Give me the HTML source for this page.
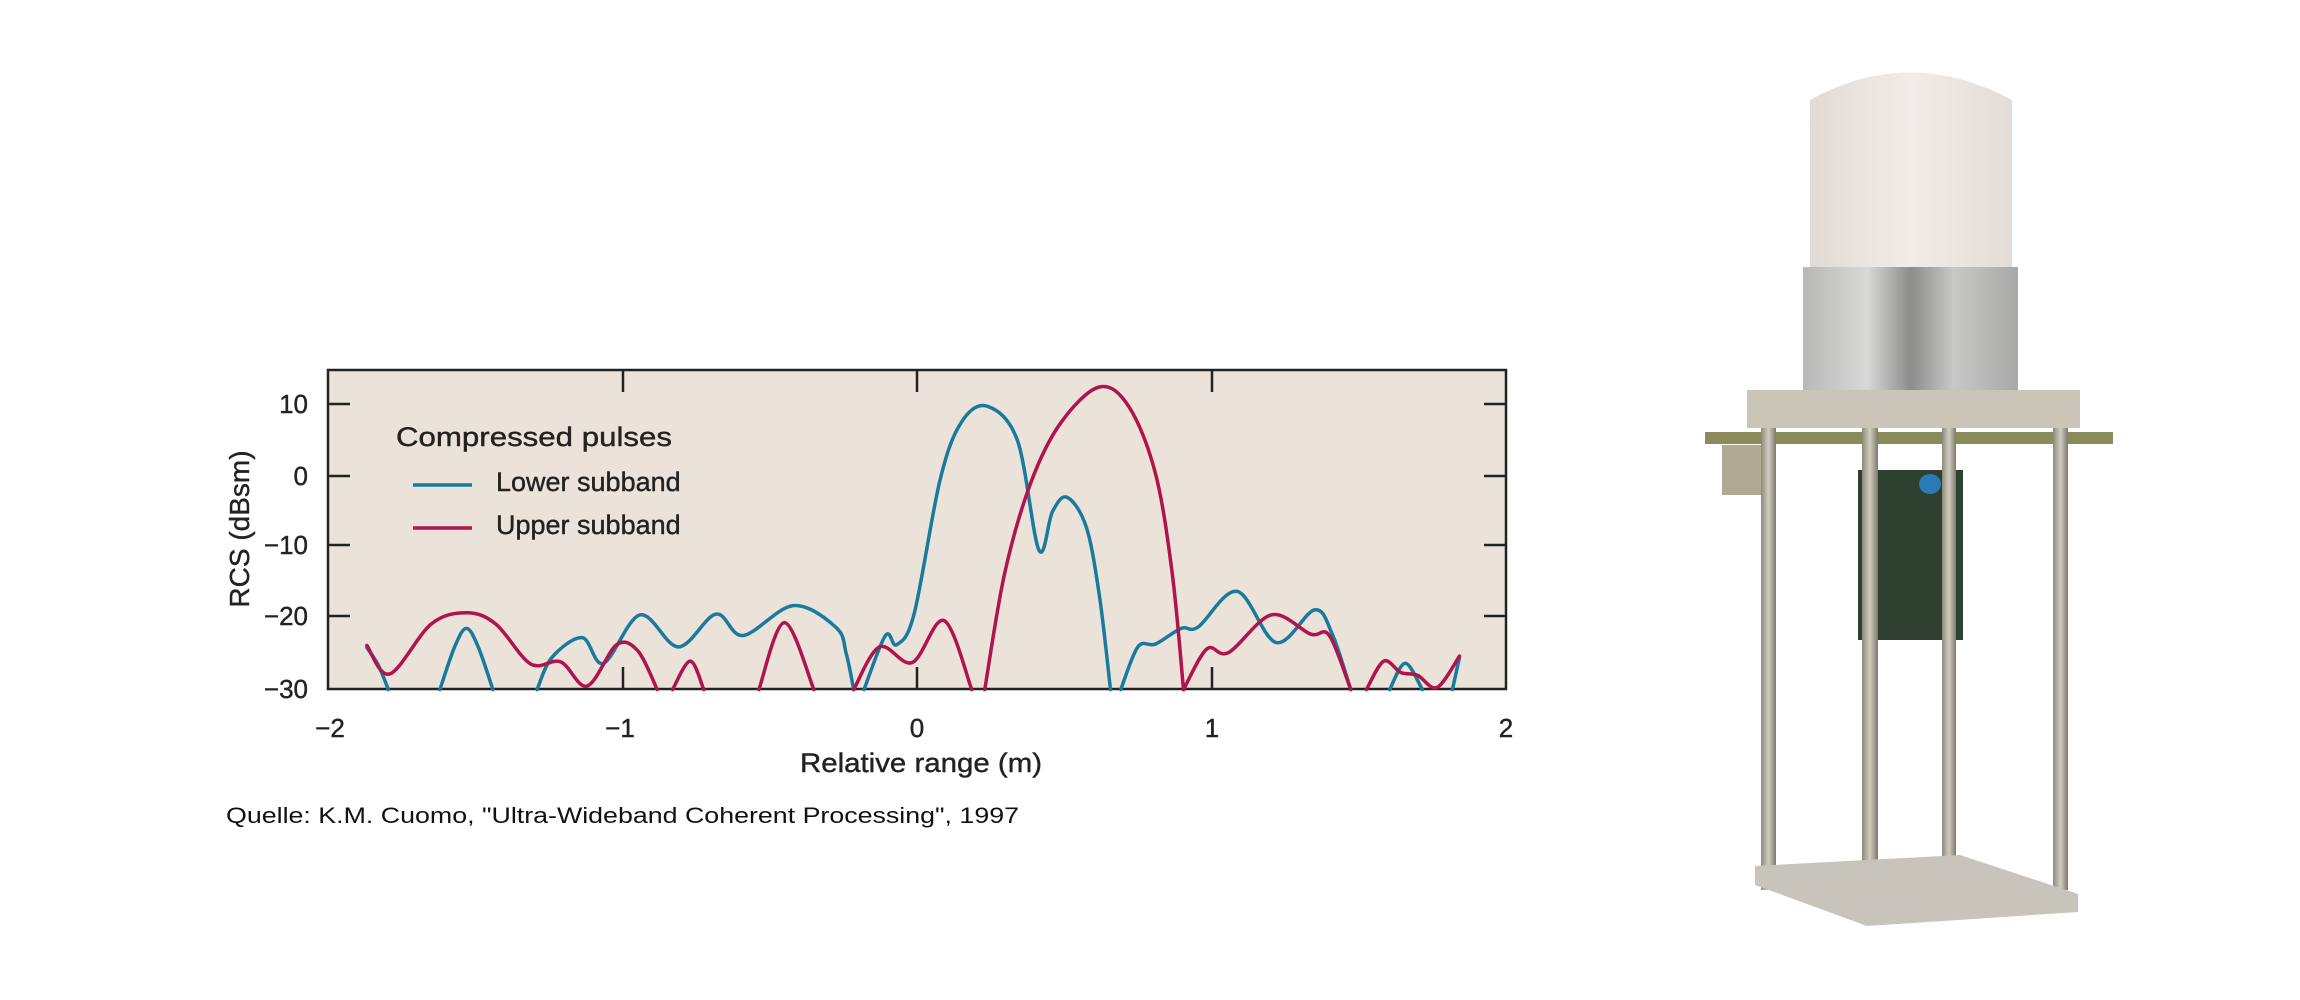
<!DOCTYPE html>
<html><head><meta charset="utf-8"><style>
html,body{margin:0;padding:0;background:#fff;width:2300px;height:1000px;overflow:hidden}
svg{display:block}
</style></head><body>
<svg id="s" width="2300" height="1000" viewBox="0 0 2300 1000" xmlns="http://www.w3.org/2000/svg" font-family="Liberation Sans, Arial, sans-serif">
<rect x="328" y="370" width="1178" height="319" fill="#ebe3da" stroke="#222" stroke-width="2.5"/>
<g stroke="#222" stroke-width="2.5">
<line x1="328" y1="404" x2="350" y2="404"/><line x1="328" y1="476" x2="350" y2="476"/><line x1="328" y1="545" x2="350" y2="545"/><line x1="328" y1="616" x2="350" y2="616"/>
<line x1="1484" y1="404" x2="1506" y2="404"/><line x1="1484" y1="476" x2="1506" y2="476"/><line x1="1484" y1="545" x2="1506" y2="545"/><line x1="1484" y1="616" x2="1506" y2="616"/>
<line x1="623" y1="370" x2="623" y2="392"/><line x1="917" y1="370" x2="917" y2="392"/><line x1="1212" y1="370" x2="1212" y2="392"/>
<line x1="623" y1="667" x2="623" y2="689"/><line x1="917" y1="667" x2="917" y2="689"/><line x1="1212" y1="667" x2="1212" y2="689"/>
</g>
<g font-size="26" fill="#222" text-anchor="end" stroke="#222" stroke-width="0.4">
<text x="308" y="413">10</text><text x="308" y="485">0</text><text x="308" y="554">−10</text><text x="308" y="625">−20</text><text x="308" y="698">−30</text>
</g>
<g font-size="26" fill="#222" text-anchor="middle" stroke="#222" stroke-width="0.4">
<text x="330" y="737">−2</text><text x="620" y="737">−1</text><text x="917" y="737">0</text><text x="1212" y="737">1</text><text x="1506" y="737">2</text>
</g>
<text x="921" y="772" font-size="27" fill="#222" stroke="#222" stroke-width="0.4" text-anchor="middle" textLength="242" lengthAdjust="spacingAndGlyphs">Relative range (m)</text>
<text transform="translate(249,529) rotate(-90)" font-size="28" fill="#222" stroke="#222" stroke-width="0.4" text-anchor="middle">RCS (dBsm)</text>
<text x="396" y="446" font-size="27" fill="#222" stroke="#222" stroke-width="0.4" textLength="276" lengthAdjust="spacingAndGlyphs">Compressed  pulses</text>
<line x1="413" y1="485" x2="472" y2="485" stroke="#1a7a9e" stroke-width="3.5"/>
<text x="496" y="491" font-size="27" fill="#222" stroke="#222" stroke-width="0.4">Lower subband</text>
<line x1="413" y1="528" x2="472" y2="528" stroke="#b0144a" stroke-width="3.5"/>
<text x="496" y="534" font-size="27" fill="#222" stroke="#222" stroke-width="0.4">Upper subband</text>
<text x="226" y="823" font-size="22" fill="#111" textLength="793" lengthAdjust="spacingAndGlyphs">Quelle: K.M. Cuomo, "Ultra-Wideband Coherent Processing", 1997</text>
<g id="curves" fill="none" stroke-width="3.5" stroke-linejoin="round" stroke-linecap="round"></g>

<defs>
<linearGradient id="cyl" x1="0" x2="1"><stop offset="0" stop-color="#b8b8b6"/><stop offset="0.3" stop-color="#d8d8d6"/><stop offset="0.5" stop-color="#8c8c8a"/><stop offset="0.7" stop-color="#c8c8c6"/><stop offset="1" stop-color="#a8a8a6"/></linearGradient>
<linearGradient id="dome" x1="0" x2="1"><stop offset="0" stop-color="#e2dad4"/><stop offset="0.5" stop-color="#f2ece8"/><stop offset="1" stop-color="#e4dcd6"/></linearGradient>
<linearGradient id="rod" x1="0" x2="1"><stop offset="0" stop-color="#8e8a78"/><stop offset="0.5" stop-color="#d0ccc0"/><stop offset="1" stop-color="#7e7a6a"/></linearGradient>
</defs>
<path d="M1810,100 Q1910,45 2012,100 L2012,267 L1810,267 Z" fill="url(#dome)"/>
<rect x="1803" y="267" width="215" height="130" fill="url(#cyl)"/>
<rect x="1705" y="432" width="408" height="12" fill="#8a8a5a"/>
<rect x="1722" y="445" width="40" height="50" fill="#b0a890"/>
<rect x="1858" y="470" width="105" height="170" fill="#2e4030"/>
<ellipse cx="1930" cy="484" rx="11" ry="10" fill="#2a7ab8"/>
<rect x="1761" y="420" width="15" height="470" fill="url(#rod)"/>
<rect x="1862" y="428" width="16" height="490" fill="url(#rod)"/>
<rect x="1942" y="425" width="14" height="460" fill="url(#rod)"/>
<rect x="2053" y="420" width="15" height="470" fill="url(#rod)"/>
<rect x="1747" y="390" width="333" height="38" fill="#cbc5b7"/>
<path d="M1755,866 L1960,855 L2078,894 L2078,912 L1867,926 L1755,885 Z" fill="#c8c4bc"/>
</svg>
<script>
var X=function(r){return 917+r*294.5},Y=function(v){return 476-v*7.12};
var blue=[
[[-1.868,-24.1],[-1.83,-26.5],[-1.795,-30]],
[[-1.62,-30],[-1.57,-24],[-1.53,-21.4],[-1.49,-24],[-1.44,-30]],
[[-1.29,-30],[-1.24,-25.5],[-1.137,-22.7],[-1.064,-26.3],[-0.94,-19.5],[-0.81,-24],[-0.683,-19.4],[-0.59,-22.4],[-0.42,-18.2],[-0.274,-21.3],[-0.24,-25],[-0.215,-30]],
[[-0.18,-30],[-0.107,-22.4],[-0.069,-23.7],[-0.01,-19.4],[0.078,-0.6],[0.15,7.5],[0.238,9.8],[0.341,5],[0.414,-10.4],[0.46,-5],[0.51,-3],[0.575,-7.2],[0.62,-17],[0.657,-30]],
[[0.692,-30],[0.75,-24],[0.81,-23.6],[0.897,-21.4],[0.955,-21.2],[1.087,-16.2],[1.22,-23.4],[1.35,-18.8],[1.41,-22.2],[1.473,-30]],
[[1.605,-30],[1.658,-26.3],[1.716,-30]],
[[1.818,-30],[1.842,-25.5]]];
var red=[
[[-1.868,-23.8],[-1.79,-27.8],[-1.65,-20.8],[-1.53,-19.2],[-1.43,-20.8],[-1.312,-26.4],[-1.21,-26.1],[-1.12,-29.5],[-1.02,-23.7],[-0.947,-24.6],[-0.882,-30]],
[[-0.83,-30],[-0.77,-26],[-0.724,-30]],
[[-0.537,-30],[-0.45,-20.6],[-0.35,-30]],
[[-0.215,-30],[-0.127,-24],[-0.016,-26.2],[0.092,-20.3],[0.186,-30]],
[[0.23,-30],[0.297,-13.8],[0.385,-1.1],[0.487,7.4],[0.619,12.5],[0.72,9.7],[0.81,0.3],[0.867,-13.8],[0.905,-30]],
[[0.905,-30],[0.984,-24.3],[1.058,-24.8],[1.204,-19.5],[1.336,-22.2],[1.4,-22.4],[1.473,-30]],
[[1.526,-30],[1.585,-26],[1.643,-27.6],[1.70,-28],[1.766,-29.7],[1.842,-25.3]]];
function path(pts){var p=pts.map(function(a){return[X(a[0]),Y(a[1])]});var d="M"+p[0][0]+","+p[0][1];
for(var i=0;i<p.length-1;i++){var p0=p[i-1]||p[i],p1=p[i],p2=p[i+1],p3=p[i+2]||p2;
d+=" C"+(p1[0]+(p2[0]-p0[0])/6)+","+(p1[1]+(p2[1]-p0[1])/6)+" "+(p2[0]-(p3[0]-p1[0])/6)+","+(p2[1]-(p3[1]-p1[1])/6)+" "+p2[0]+","+p2[1];}return d;}
var g=document.getElementById("curves"),ns="http://www.w3.org/2000/svg";
[[blue,"#1a7a9e"],[red,"#b0144a"]].forEach(function(s){s[0].forEach(function(seg){var e=document.createElementNS(ns,"path");e.setAttribute("d",path(seg));e.setAttribute("stroke",s[1]);g.appendChild(e);});});
</script>
</body></html>
